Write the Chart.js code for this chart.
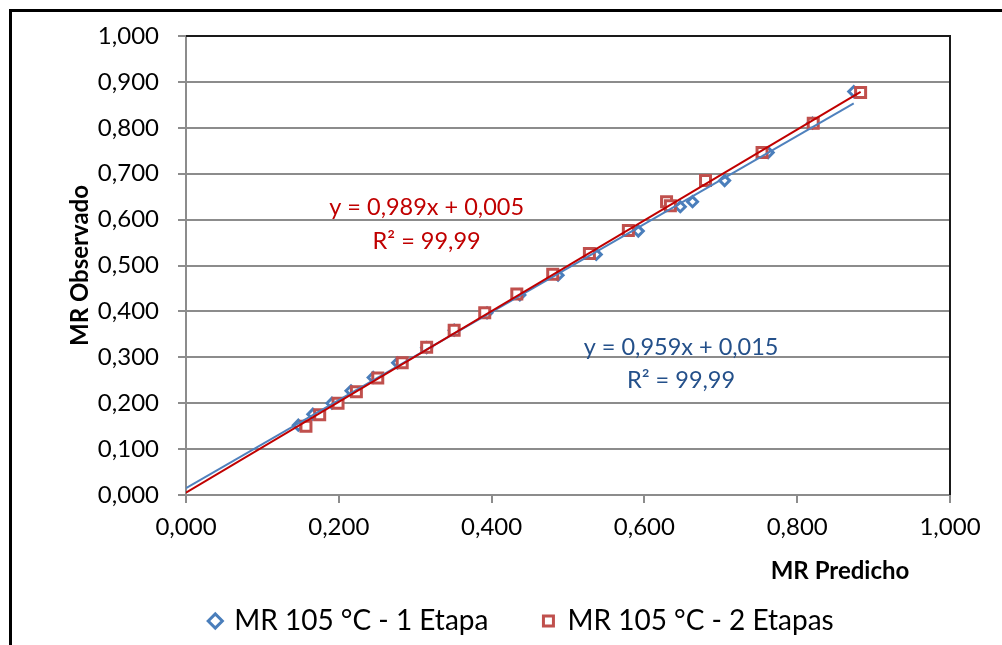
<!DOCTYPE html>
<html>
<head>
<meta charset="utf-8">
<script src="https://cdn.jsdelivr.net/npm/chart.js@4.4.1/dist/chart.umd.min.js"></script>
<style>
  html, body { margin: 0; padding: 0; background: #fff; overflow: hidden; width: 1002px; height: 645px; }
  #frame { position: absolute; left: 9px; top: 9px; width: 1100px; height: 800px; border: 3px solid #000; box-sizing: border-box; }
  #chart { position: absolute; left: 0; top: 0; }
</style>
</head>
<body>
<div id="frame"></div>
<canvas id="chart" width="1002" height="645"></canvas>
<script>
// Series names
const seriesNames = ['MR 105 °C - 1 Etapa', 'MR 105 °C - 2 Etapas'];

// MR predicted vs. observed, one-stage model
const predicted1 = [0.147, 0.166, 0.191, 0.216, 0.245, 0.277, 0.315, 0.351, 0.394, 0.437, 0.487, 0.537, 0.592, 0.647, 0.663, 0.705, 0.762, 0.820, 0.874];
const observed1  = [0.152, 0.176, 0.200, 0.227, 0.256, 0.288, 0.321, 0.359, 0.397, 0.436, 0.479, 0.524, 0.575, 0.628, 0.639, 0.685, 0.746, 0.810, 0.879];

// MR predicted vs. observed, two-stage model
const predicted2 = [0.157, 0.175, 0.199, 0.223, 0.251, 0.283, 0.315, 0.351, 0.391, 0.433, 0.480, 0.528, 0.579, 0.629, 0.634, 0.680, 0.754, 0.821, 0.883];
const observed2  = [0.150, 0.175, 0.200, 0.225, 0.255, 0.288, 0.322, 0.359, 0.397, 0.438, 0.481, 0.526, 0.576, 0.639, 0.630, 0.685, 0.746, 0.810, 0.877];

// Linear trendlines (slope, intercept, R²) for each series
const trendSlope = [0.959, 0.989];
const trendIntercept = [0.015, 0.005];
const trendR2 = ['99,99', '99,99'];

// Axis ticks
const xTickValues = [0, 0.2, 0.4, 0.6, 0.8, 1.0];
const yTickValues = [0, 0.1, 0.2, 0.3, 0.4, 0.5, 0.6, 0.7, 0.8, 0.9, 1.0];

const xTitle = 'MR Predicho';
const yTitle = 'MR Observado';

const BLUE = '#4a7ebb';
const RED = '#c0504d';
const BLUE_LINE = '#4f81bd';
const RED_LINE = '#c00000';
const BLUE_TEXT = '#24508a';
const RED_TEXT = '#c00000';
const GRID = '#8c8c8c';
const FONT = 'Lato, "Open Sans", sans-serif';

const fmt = v => v.toFixed(3).replace('.', ',');

const toPoints = (xs, ys) => xs.map((x, i) => ({ x: x, y: ys[i] }));
const trendPoints = (k, xs) => {
  const xMax = Math.max(...xs);
  return [0, xMax].map(x => ({ x: x, y: trendSlope[k] * x + trendIntercept[k] }));
};

Chart.defaults.font.family = FONT;
Chart.defaults.color = '#000';

// Plot-area frame, trendline equations and axis titles
const annotations = {
  id: 'annotations',
  beforeDatasetsDraw(chart) {
    const { ctx, chartArea: a } = chart;
    ctx.save();
    ctx.strokeStyle = '#1a1a1a';
    ctx.lineWidth = 2;
    ctx.beginPath();
    ctx.moveTo(a.left, a.top);
    ctx.lineTo(a.right, a.top);
    ctx.lineTo(a.right, a.bottom);
    ctx.stroke();
    ctx.restore();
  },
  afterDraw(chart) {
    const { ctx, scales: { x, y } } = chart;
    ctx.save();
    ctx.textAlign = 'center';
    ctx.textBaseline = 'middle';
    ctx.font = '23.5px ' + FONT;

    const labels = [
      { k: 1, x: 0.315, y1: 0.626, y2: 0.553, color: RED_TEXT },
      { k: 0, x: 0.648, y1: 0.321, y2: 0.250, color: BLUE_TEXT }
    ];
    labels.forEach(l => {
      ctx.fillStyle = l.color;
      ctx.fillText('y = ' + fmt(trendSlope[l.k]) + 'x + ' + fmt(trendIntercept[l.k]),
        x.getPixelForValue(l.x), y.getPixelForValue(l.y1));
      ctx.fillText('R² = ' + trendR2[l.k], x.getPixelForValue(l.x), y.getPixelForValue(l.y2));
    });

    ctx.fillStyle = '#000';
    ctx.font = 'bold 24px ' + FONT;
    ctx.fillText(xTitle, 840, 571);
    ctx.translate(80, (chart.chartArea.top + chart.chartArea.bottom) / 2);
    ctx.rotate(-Math.PI / 2);
    ctx.fillText(yTitle, 0, 0);
    ctx.restore();
  }
};

new Chart(document.getElementById('chart'), {
  type: 'scatter',
  data: {
    datasets: [
      {
        label: seriesNames[0],
        data: toPoints(predicted1, observed1),
        pointStyle: 'rectRot',
        pointRadius: 5,
        pointHoverRadius: 5,
        pointBorderWidth: 3,
        borderColor: BLUE,
        backgroundColor: '#fff',
        order: 3
      },
      {
        label: seriesNames[1],
        data: toPoints(predicted2, observed2),
        pointStyle: 'rect',
        pointRadius: 7.07,
        pointHoverRadius: 7.07,
        pointBorderWidth: 3,
        borderColor: RED,
        backgroundColor: '#fff',
        order: 2
      },
      {
        label: 'trend1',
        data: trendPoints(0, predicted1),
        showLine: true,
        pointRadius: 0,
        borderColor: BLUE_LINE,
        borderWidth: 2,
        order: 1
      },
      {
        label: 'trend2',
        data: trendPoints(1, predicted2),
        showLine: true,
        pointRadius: 0,
        borderColor: RED_LINE,
        borderWidth: 2,
        order: 0
      }
    ]
  },
  options: {
    responsive: false,
    animation: false,
    events: [],
    layout: { padding: { left: 42, right: 0, top: 36, bottom: 0 } },
    scales: {
      x: {
        type: 'linear',
        min: 0,
        max: 1,
        afterBuildTicks: s => { s.ticks = xTickValues.map(v => ({ value: v })); },
        afterFit: s => { s.height = 57; },
        ticks: { padding: 10, font: { size: 24 }, callback: v => fmt(v) },
        grid: { drawOnChartArea: false, drawTicks: true, tickLength: 8, color: GRID, lineWidth: 2 },
        border: { color: GRID, width: 2 }
      },
      y: {
        type: 'linear',
        min: 0,
        max: 1,
        afterBuildTicks: s => { s.ticks = yTickValues.map(v => ({ value: v })); },
        afterFit: s => { s.width = 144; },
        ticks: { padding: 19, font: { size: 24 }, callback: v => fmt(v) },
        grid: { drawTicks: true, tickLength: 8, color: GRID, lineWidth: 2 },
        border: { color: GRID, width: 2 }
      },
      y2: {
        type: 'linear',
        position: 'right',
        display: true,
        grid: { display: false },
        ticks: { display: false },
        border: { display: false },
        afterFit: s => { s.width = 52; }
      }
    },
    plugins: {
      legend: {
        display: true,
        position: 'bottom',
        labels: {
          usePointStyle: true,
          boxWidth: 10,
          boxHeight: 10,
          padding: 55,
          font: { size: 28 },
          color: '#000',
          filter: item => item.datasetIndex < 2,
          sort: (a, b) => a.datasetIndex - b.datasetIndex
        }
      },
      tooltip: { enabled: false }
    }
  },
  plugins: [annotations]
});
</script>
</body>
</html>
